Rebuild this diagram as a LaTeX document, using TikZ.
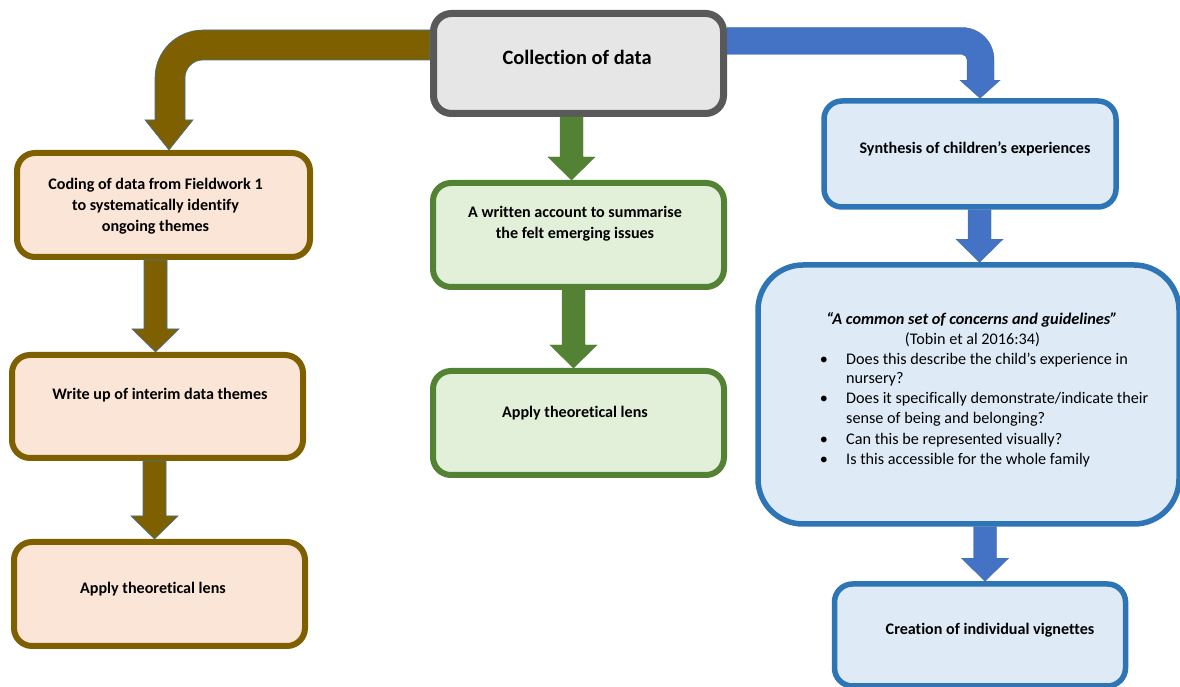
\documentclass[tikz,border=0pt]{standalone}
\usepackage{fontspec}
\setmainfont{Carlito}[Ligatures=NoCommon]
\usetikzlibrary{calc}

\definecolor{brownline}{HTML}{7F6000}
\definecolor{peachfill}{HTML}{FBE5D6}
\definecolor{greenline}{HTML}{548235}
\definecolor{greenfill}{HTML}{E2F0D9}
\definecolor{blueline}{HTML}{2E75B6}
\definecolor{bluefill}{HTML}{DEEBF7}
\definecolor{bluearrow}{HTML}{4472C4}
\definecolor{grayline}{HTML}{595959}
\definecolor{grayfill}{HTML}{E7E6E6}
\definecolor{arrowedge}{HTML}{41719C}

% vertical block arrow from the bottom of one box to the top of the next
\newcommand\blockdown[4]{%
  \filldraw[#1] let \p1=(#3.south), \p2=(#4.north) in
    (#2-11.5,\y1) -- (#2+11.5,\y1) -- (#2+11.5,\y2+23) -- (#2+23.5,\y2+23)
    -- (#2,\y2) -- (#2-23.5,\y2+23) -- (#2-11.5,\y2+23) -- cycle;}

\begin{document}
\begin{tikzpicture}[x=1pt,y=1pt,
  box/.style={draw, rectangle, rounded corners=18pt, inner sep=0pt},
  graybox/.style={box, draw=grayline, fill=grayfill, line width=7pt},
  brownbox/.style={box, draw=brownline, fill=peachfill, line width=6pt},
  greenbox/.style={box, draw=greenline, fill=greenfill, line width=6pt},
  bluebox/.style={box, draw=blueline, fill=bluefill, line width=5.5pt},
  label/.style={align=center, inner sep=0pt, font=\fontsize{16.1}{21}\selectfont\bfseries},
  bodytext/.style={inner sep=0pt, anchor=base west, font=\fontsize{16.2}{20}\selectfont},
  brownarrow/.style={fill=brownline, draw=arrowedge, line width=0.6pt},
  greenarrow/.style={fill=greenline, draw=greenline, line width=0.4pt},
  bluearrow/.style={fill=bluearrow, draw=arrowedge, line width=0.4pt}]

\useasboundingbox (0,0) rectangle (1180,687);
\fill[white] (0,0) rectangle (1180,687);

% boxes
\node[graybox, minimum width=290pt, minimum height=100pt] (col) at (578.5,623.5) {};
\node[brownbox, minimum width=293pt, minimum height=104pt] (cod) at (163.5,482) {};
\node[brownbox, minimum width=291pt, minimum height=103pt] (wri) at (157.5,280.5) {};
\node[brownbox, minimum width=291pt, minimum height=104pt] (lensa) at (159.5,93) {};
\node[greenbox, minimum width=291pt, minimum height=104pt] (acc) at (578.5,452) {};
\node[greenbox, minimum width=291pt, minimum height=104pt] (lensb) at (578.5,264) {};
\node[bluebox, minimum width=292pt, minimum height=106pt] (syn) at (970,533) {};
\node[bluebox, rounded corners=45pt, minimum width=421pt, minimum height=259pt] (con) at (968.5,292.5) {};
\node[bluebox, minimum width=291pt, minimum height=102pt] (vig) at (980,52) {};

% bent arrows out of the top box
\filldraw[brownarrow] let \p1=(col.west), \p2=(cod.north) in
  (\x1,657) -- (203,657) arc[start angle=90, end angle=180, radius=48pt]
  -- (155,\y2+30) -- (145,\y2+30) -- (169,\y2) -- (193,\y2+30) -- (185,\y2+30)
  -- (185,609) arc[start angle=180, end angle=90, radius=18pt] -- (\x1,627) -- cycle;
\filldraw[bluearrow] let \p1=(col.east), \p2=(syn.north) in
  (\x1,659.5) -- (962,659.5) arc[start angle=90, end angle=0, radius=32pt]
  -- (994,\y2+18) -- (1000,\y2+18) -- (980,\y2) -- (960,\y2+18) -- (967,\y2+18)
  -- (967,627.5) arc[start angle=0, end angle=90, radius=5pt] -- (\x1,632.5) -- cycle;

% straight arrows
\blockdown{brownarrow}{155.5}{cod}{wri}
\blockdown{brownarrow}{154.5}{wri}{lensa}
\blockdown{greenarrow}{571.5}{col}{acc}
\blockdown{greenarrow}{573.5}{acc}{lensb}
\blockdown{bluearrow}{979.5}{syn}{con}
\blockdown{bluearrow}{985}{con}{vig}

% texts
\node[label, font=\fontsize{20.4}{24}\selectfont\bfseries] (tcol) at (577,630) {Collection of data};
\node[label] (tcod) at (155.5,481) {Coding of data from Fieldwork 1\\to systematically identify\\ongoing themes};
\node[label] (twri) at (160,292) {Write up of interim data themes};
\node[label] (tlensa) at (153,98) {Apply theoretical lens};
\node[label] (tacc) at (575,463) {A written account to summarise\\the felt emerging issues};
\node[label] (tlensb) at (575,274) {Apply theoretical lens};
\node[label] (tsyn) at (975,538) {Synthesis of children’s experiences};
\node[label] (tvig) at (990,57) {Creation of individual vignettes};

\node[label, font=\fontsize{16.3}{20}\selectfont\bfseries\itshape] (tquote) at (972,367) {“A common set of concerns and guidelines”};
\node[label, font=\fontsize{16.2}{20}\selectfont] (tref) at (972.5,347) {(Tobin et al 2016:34)};

\node[bodytext] (l1) at (846,322) {Does this describe the child’s experience in};
\node[bodytext] (l2) at (846,303) {nursery?};
\node[bodytext] (l3) at (846,283) {Does it specifically demonstrate/indicate their};
\node[bodytext] (l4) at (846,263) {sense of being and belonging?};
\node[bodytext] (l5) at (846,242) {Can this be represented visually?};
\node[bodytext] (l6) at (846,222) {Is this accessible for the whole family};
\foreach \n/\yy in {b1/322, b3/283, b5/242, b6/222}
  \node[bodytext, anchor=base] (\n) at (824,\yy) {•};

\end{tikzpicture}
\end{document}
